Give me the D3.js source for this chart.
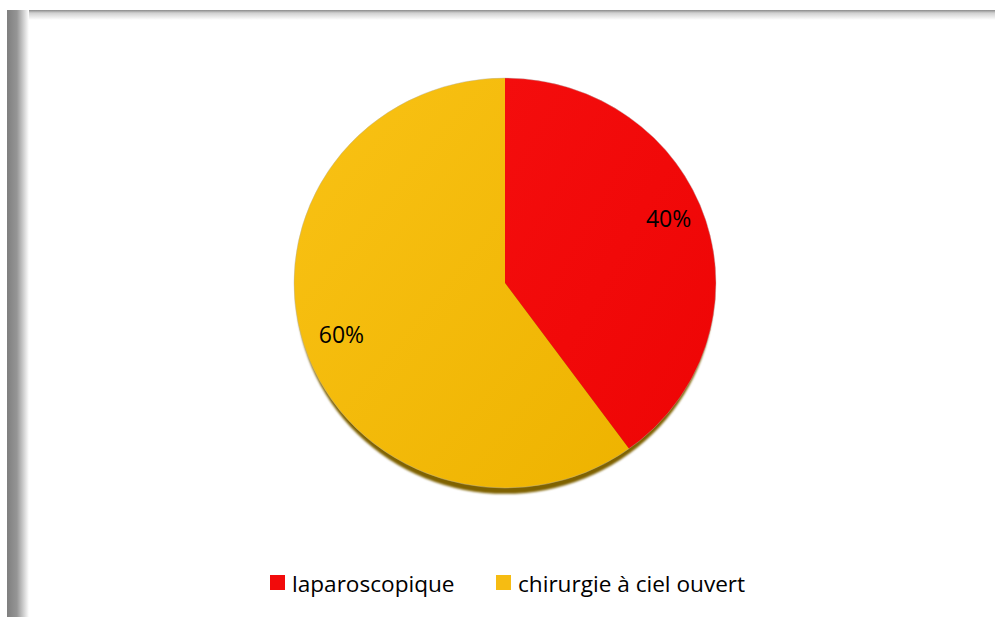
<!DOCTYPE html>
<meta charset="utf-8">
<title>Pie</title>
<script src="https://d3js.org/d3.v7.min.js"></script>
<style>
  body { margin: 0; background: #fff; overflow: hidden; }
  text { font-family: "Open Sans", sans-serif; fill: #000; }
</style>
<div id="my_dataviz"></div>
<script>

// data
var categories = ["laparoscopique", "chirurgie à ciel ouvert"];
var values = [40, 60];
var labels = ["40%", "60%"];
var colors = ["#f20b0b", "#f6bc12"];

var width = 995, height = 617;

var svg = d3.select("#my_dataviz")
  .append("svg")
    .attr("width", width)
    .attr("height", height);

var defs = svg.append("defs");

// frame shadows (left + top)
var gl = defs.append("linearGradient").attr("id", "shadowLeft")
  .attr("x1", 0).attr("x2", 1).attr("y1", 0).attr("y2", 0);
gl.append("stop").attr("offset", "0%").attr("stop-color", "#7f7f7f");
gl.append("stop").attr("offset", "45%").attr("stop-color", "#959595");
gl.append("stop").attr("offset", "100%").attr("stop-color", "#ffffff");

var gt = defs.append("linearGradient").attr("id", "shadowTop")
  .attr("x1", 0).attr("x2", 0).attr("y1", 0).attr("y2", 1);
gt.append("stop").attr("offset", "0%").attr("stop-color", "#8a8a8a");
gt.append("stop").attr("offset", "30%").attr("stop-color", "#d0d0d0");
gt.append("stop").attr("offset", "100%").attr("stop-color", "#ffffff");

svg.append("rect")
  .attr("x", 7).attr("y", 10).attr("width", width).attr("height", 10)
  .attr("fill", "url(#shadowTop)");
svg.append("rect")
  .attr("x", 7).attr("y", 10).attr("width", 22).attr("height", height)
  .attr("fill", "url(#shadowLeft)");

// slice gradients
var gy = defs.append("linearGradient").attr("id", "gradYellow")
  .attr("x1", 0).attr("x2", 1).attr("y1", 0).attr("y2", 1);
gy.append("stop").attr("offset", "0%").attr("stop-color", "#f9c215");
gy.append("stop").attr("offset", "100%").attr("stop-color", "#eeb300");

var gr = defs.append("linearGradient").attr("id", "gradRed")
  .attr("x1", 0).attr("x2", 1).attr("y1", 0).attr("y2", 1);
gr.append("stop").attr("offset", "0%").attr("stop-color", "#f40d0d");
gr.append("stop").attr("offset", "100%").attr("stop-color", "#ee0505");

var fills = ["url(#gradRed)", "url(#gradYellow)"];

var cx = 505, cy = 283, radius = 211, ry = 205;

var pie = d3.pie().sort(null).value(function(d) { return d; });
var arcs = pie(values);

var arc = d3.arc().innerRadius(0).outerRadius(radius);
var labelArc = d3.arc().innerRadius(172).outerRadius(172);

var blur = defs.append("filter").attr("id", "blur")
  .attr("x", "-10%").attr("y", "-10%").attr("width", "120%").attr("height", "120%");
blur.append("feGaussianBlur").attr("stdDeviation", 1.2);

var g = svg.append("g")
  .attr("transform", "translate(" + cx + "," + cy + ") scale(1," + (ry / radius) + ")");

// bottom shadow / depth
g.append("ellipse")
  .attr("cx", 0).attr("cy", 6)
  .attr("rx", radius - 2).attr("ry", radius)
  .attr("fill", "#7f6206")
  .attr("filter", "url(#blur)");

g.selectAll(".slice")
  .data(arcs)
  .enter()
  .append("path")
    .attr("class", "slice")
    .attr("d", arc)
    .attr("fill", function(d, i) { return fills[i]; });

// thin gray outline at the edge
g.append("circle")
  .attr("r", radius)
  .attr("fill", "none")
  .attr("stroke", "#b0b0b0")
  .attr("stroke-opacity", 0.5)
  .attr("stroke-width", 0.8);

// percentage labels
svg.selectAll(".lbl")
  .data(arcs)
  .enter()
  .append("text")
    .attr("class", "lbl")
    .attr("x", function(d) { return cx + labelArc.centroid(d)[0]; })
    .attr("y", function(d) { return cy + labelArc.centroid(d)[1] * ry / radius; })
    .attr("dy", function(d, i) { return i === 0 ? "-0.2em" : "0.35em"; })
    .attr("text-anchor", "middle")
    .attr("font-size", "23px")
    .text(function(d, i) { return labels[i]; });

// legend
var legendX = [270, 496];
var legend = svg.selectAll(".legend")
  .data(categories)
  .enter()
  .append("g")
    .attr("class", "legend")
    .attr("transform", function(d, i) { return "translate(" + legendX[i] + ",575)"; });

legend.append("rect")
  .attr("width", 15).attr("height", 15)
  .attr("fill", function(d, i) { return colors[i]; });

legend.append("text")
  .attr("x", 22)
  .attr("y", 17)
  .attr("font-size", "22.6px")
  .text(function(d) { return d; });

</script>
